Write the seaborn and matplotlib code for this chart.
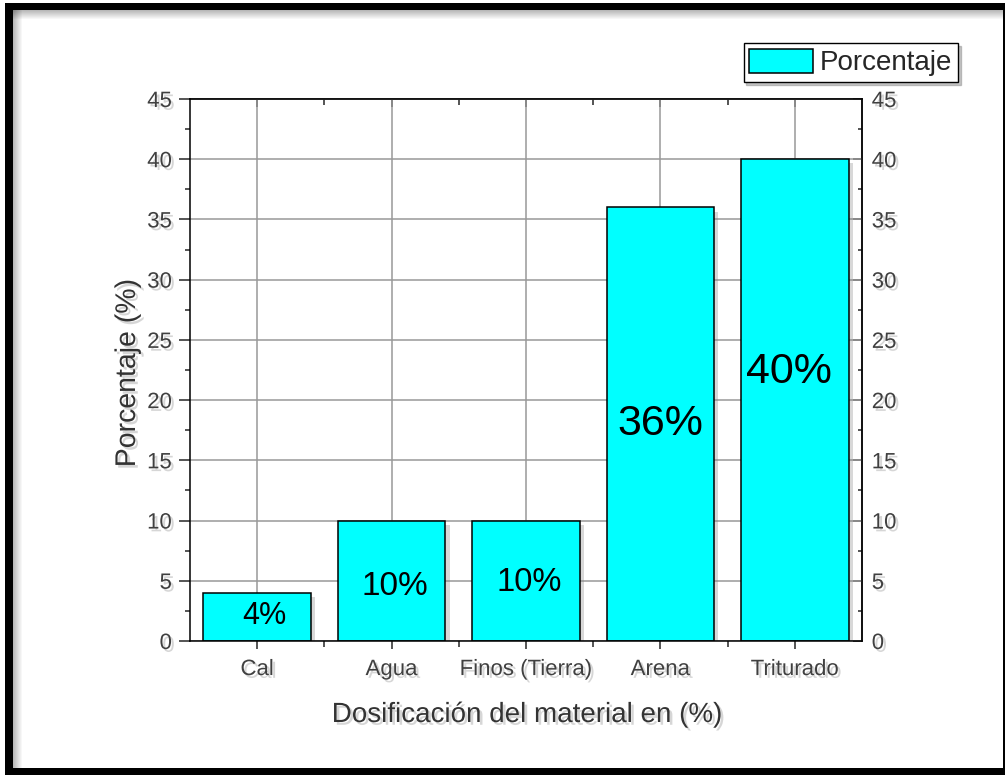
import matplotlib
matplotlib.use('Agg')
import matplotlib.pyplot as plt
import matplotlib.patheffects as pe
from matplotlib.patches import Patch, Rectangle
from matplotlib.ticker import MultipleLocator, FixedLocator
import seaborn as sns
import pandas as pd

# ---------------- data ----------------
categories = ['Cal', 'Agua', 'Finos (Tierra)', 'Arena', 'Triturado']
values = [4, 10, 10, 36, 40]
bar_labels = ['4%', '10%', '10%', '36%', '40%']
series_name = 'Porcentaje'
y_ticks = [0, 5, 10, 15, 20, 25, 30, 35, 40, 45]

# layout of the in-bar labels (x shift and baseline in data units, font size in pt)
label_dx = [0.05, 0.026, 0.026, 0.0, -0.04]
label_baseline = [1.41, 3.82, 4.15, 17.1, 21.42]
label_fontsize = [22, 24, 23.5, 31, 31]

# ---------------- style ----------------
sns.set_style('white')
plt.rcParams['font.family'] = ['Liberation Sans', 'DejaVu Sans']

W, H = 1005, 775
fig = plt.figure(figsize=(W / 100, H / 100), dpi=100)
fig.patch.set_facecolor('white')
ax = fig.add_axes([190 / W, 1 - 641 / H, (862 - 190) / W, (641 - 99) / H])

shadow_txt = [pe.withSimplePatchShadow(offset=(2, -2), shadow_rgbFace='0.55', alpha=0.35)]

df = pd.DataFrame({'Material': categories, 'Porcentaje': values})
sns.barplot(data=df, x='Material', y='Porcentaje', color='#00FFFF', saturation=1,
            edgecolor='black', linewidth=1.1, width=0.8, ax=ax, zorder=2)
for p in ax.patches:
    p.set_path_effects([pe.SimplePatchShadow(offset=(3, -3), shadow_rgbFace='0.5', alpha=0.3),
                        pe.Normal()])

ax.set_xlim(-0.5, len(categories) - 0.5)
ax.set_ylim(0, 45)
ax.set_yticks(y_ticks)
ax.yaxis.set_minor_locator(MultipleLocator(2.5))
ax.xaxis.set_minor_locator(FixedLocator([i + 0.5 for i in range(len(categories) - 1)]))
ax.set_axisbelow(True)
ax.grid(True, which='major', color='#999999', linewidth=1.1)

for s in ax.spines.values():
    s.set_color('black')
    s.set_linewidth(1.1)
    s.set_visible(True)

ax.tick_params(axis='y', which='major', direction='out', length=8, width=1.1,
               labelsize=16, labelcolor='#404040', pad=5, left=True, right=False)
ax.tick_params(axis='y', which='minor', direction='out', length=3.5, width=1.1, left=True, right=False)
ax.tick_params(axis='x', which='major', direction='out', length=6, width=1.1,
               labelsize=16, labelcolor='#404040', pad=7, bottom=True, top=False)
ax.tick_params(axis='x', which='minor', direction='out', length=4, width=1.1, bottom=True, top=False)

# right axis: inward ticks with labels
secy = ax.secondary_yaxis('right')
secy.set_yticks(y_ticks)
secy.yaxis.set_minor_locator(MultipleLocator(2.5))
secy.tick_params(axis='y', which='major', direction='in', length=6.5, width=1.1,
                 labelsize=16, labelcolor='#404040', pad=7)
secy.tick_params(axis='y', which='minor', direction='in', length=3, width=1.1)
secy.spines['right'].set_linewidth(1.1)

# top axis: inward ticks without labels
secx = ax.secondary_xaxis('top')
secx.set_xticks(list(range(len(categories))))
secx.set_xticklabels([])
secx.xaxis.set_minor_locator(FixedLocator([i + 0.5 for i in range(len(categories) - 1)]))
secx.tick_params(axis='x', which='major', direction='in', length=6, width=1.1)
secx.tick_params(axis='x', which='minor', direction='in', length=4, width=1.1)
secx.spines['top'].set_linewidth(1.1)

ax.set_xlabel('Dosificación del material en (%)', fontsize=20, color='#333333')
ax.set_ylabel('Porcentaje (%)', fontsize=20.5, color='#333333')
ax.xaxis.set_label_coords((527 - 190) / 672, (641 - 702) / 542)
ax.yaxis.set_label_coords((141 - 190) / 672, (641 - 373) / 542)

for t in ax.get_xticklabels() + ax.get_yticklabels() + secy.get_yticklabels():
    t.set_path_effects(shadow_txt)
ax.xaxis.label.set_path_effects(shadow_txt)
ax.yaxis.label.set_path_effects(shadow_txt)

for i, (lab, dx, yb, fs) in enumerate(zip(bar_labels, label_dx, label_baseline, label_fontsize)):
    ax.text(i + dx, yb, lab, ha='center', va='baseline', fontsize=fs, color='black', zorder=5)

# legend
handles = [Patch(facecolor='#00FFFF', edgecolor='black', linewidth=1.1, label=series_name)]
leg = fig.legend(handles=handles, loc='upper right', bbox_to_anchor=(958 / W, 1 - 43 / H),
                 bbox_transform=fig.transFigure, fontsize=20, frameon=True, fancybox=False,
                 shadow={'color': '0.55', 'alpha': 0.5}, borderpad=0.2, handlelength=2.3,
                 handleheight=1.0, handletextpad=0.25, borderaxespad=0)
leg.get_frame().set_edgecolor('black')
leg.get_frame().set_linewidth(1.0)
leg.get_frame().set_alpha(1)

# picture frame (black border with soft inner shade)
def px_rect(x0, y0, x1, y1, **kw):
    fig.patches.append(Rectangle((x0 / W, 1 - y1 / H), (x1 - x0) / W, (y1 - y0) / H,
                                 transform=fig.transFigure, **kw))

for k in range(9):
    a = 0.28 * (1 - k / 9)
    px_rect(13 + k, 10, 14 + k, 768, facecolor='black', edgecolor='none', alpha=a)
    px_rect(13, 10 + k, 1003, 11 + k, facecolor='black', edgecolor='none', alpha=a)
px_rect(5, 3, 13, 775, facecolor='black', edgecolor='none')
px_rect(5, 3, 1005, 10, facecolor='black', edgecolor='none')
px_rect(5, 768, 1005, 775, facecolor='black', edgecolor='none')
px_rect(1003, 3, 1005, 775, facecolor='black', edgecolor='none')

fig.savefig('out.png', dpi=100, facecolor='white')
